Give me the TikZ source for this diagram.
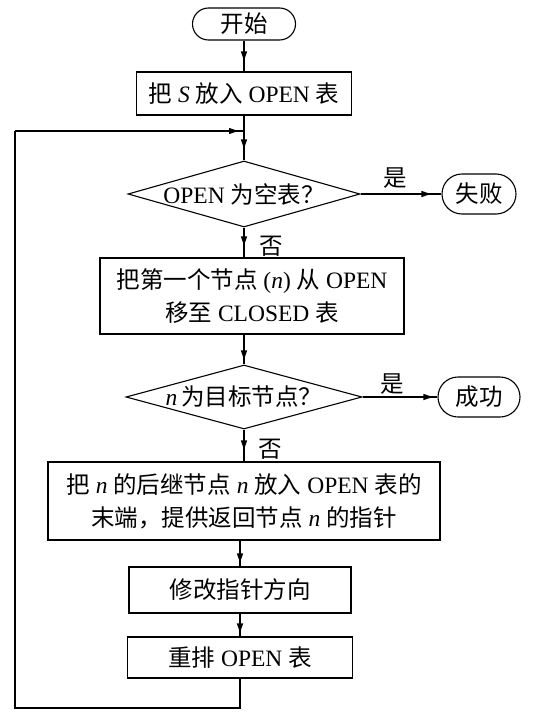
\documentclass[tikz,border=0pt]{standalone}
\usepackage{fontspec}
\setmainfont{Liberation Serif}
\newfontfamily\cjk{Noto Sans CJK SC}
\usetikzlibrary{shapes.geometric,shapes.misc,arrows.meta,decorations.markings}
\newcommand\zh[1]{{\cjk #1}}
\newcommand\fsz{\fontsize{23.5}{33}\selectfont}
\begin{document}
\begin{tikzpicture}[x=1pt,y=-1pt,line width=1.1pt,
  every node/.style={font=\fsz, inner sep=0pt},
  procbox/.style={draw, rectangle, align=center},
  term/.style={draw, rounded rectangle},
  dia/.style={draw, diamond},
  flow/.style={postaction={decorate}, decoration={markings, mark=at position #1 with {\arrow{Latex[length=11pt,width=6.5pt]}}}},
  flow/.default=-6pt]
\useasboundingbox (0,0) rectangle (538,712);
\node[term, minimum width=103, minimum height=32] (start) at (244,24) {\zh{开始}};
\node[procbox, minimum width=215, minimum height=43] (b1) at (244,93.5) {\zh{把} \textit{S} \zh{放入} OPEN \zh{表}};
\node[dia, minimum width=232, minimum height=66, label=center:{OPEN \zh{为空表？}}] (d1) at (244,194) {};
\node[term, minimum width=74, minimum height=40] (fail) at (479,194) {\zh{失败}};
\node[procbox, minimum width=304, minimum height=76] (b2) at (252,296) {\zh{把第一个节点} (\textit{n}) \zh{从} OPEN\\\zh{移至} CLOSED \zh{表}};
\node[dia, minimum width=236, minimum height=64, label=center:{\textit{n}\,\zh{为目标节点？}}] (d2) at (244,397) {};
\node[term, minimum width=82, minimum height=40] (succ) at (479,397) {\zh{成功}};
\node[procbox, minimum width=392, minimum height=78] (b3) at (244,501) {\zh{把} \textit{n} \zh{的后继节点} \textit{n} \zh{放入} OPEN \zh{表的}\\\zh{末端，提供返回节点} \textit{n} \zh{的指针}};
\node[procbox, minimum width=222, minimum height=46] (b4) at (240,590) {\zh{修改指针方向}};
\node[procbox, minimum width=225, minimum height=41] (b5) at (240,657.5) {\zh{重排} OPEN \zh{表}};
\node (y1) at (395,178) {\zh{是}};
\node (n1) at (271,246) {\zh{否}};
\node (y2) at (392,384) {\zh{是}};
\node (n2) at (270,449) {\zh{否}};
\coordinate (lb) at (240,708);
\coordinate (ll) at (15,708);
\coordinate (lt) at (15,131);
\coordinate (join) at (244,131);
\draw[flow=-9pt] (start.south) -- (b1.north);
\draw[flow=-10pt] (b1.south) -- (d1.north);
\draw[flow=-9pt] (d1.east) -- (fail.west);
\draw[flow=-10pt] (d1.south) -- (d1.south |- b2.north);
\draw[flow=-3pt] (b2.south -| d2.north) -- (d2.north);
\draw[flow=-3pt] (d2.east) -- (succ.west);
\draw[flow=-10pt] (d2.south) -- (b3.north);
\draw[flow=-2pt] (b3.south -| b4.north) -- (b4.north);
\draw[flow=-2pt] (b4.south) -- (b5.north);
\draw (b5.south) -- (lb) -- (ll) -- (lt);
\draw[flow=-4pt] (lt) -- (join);
\end{tikzpicture}
\end{document}
